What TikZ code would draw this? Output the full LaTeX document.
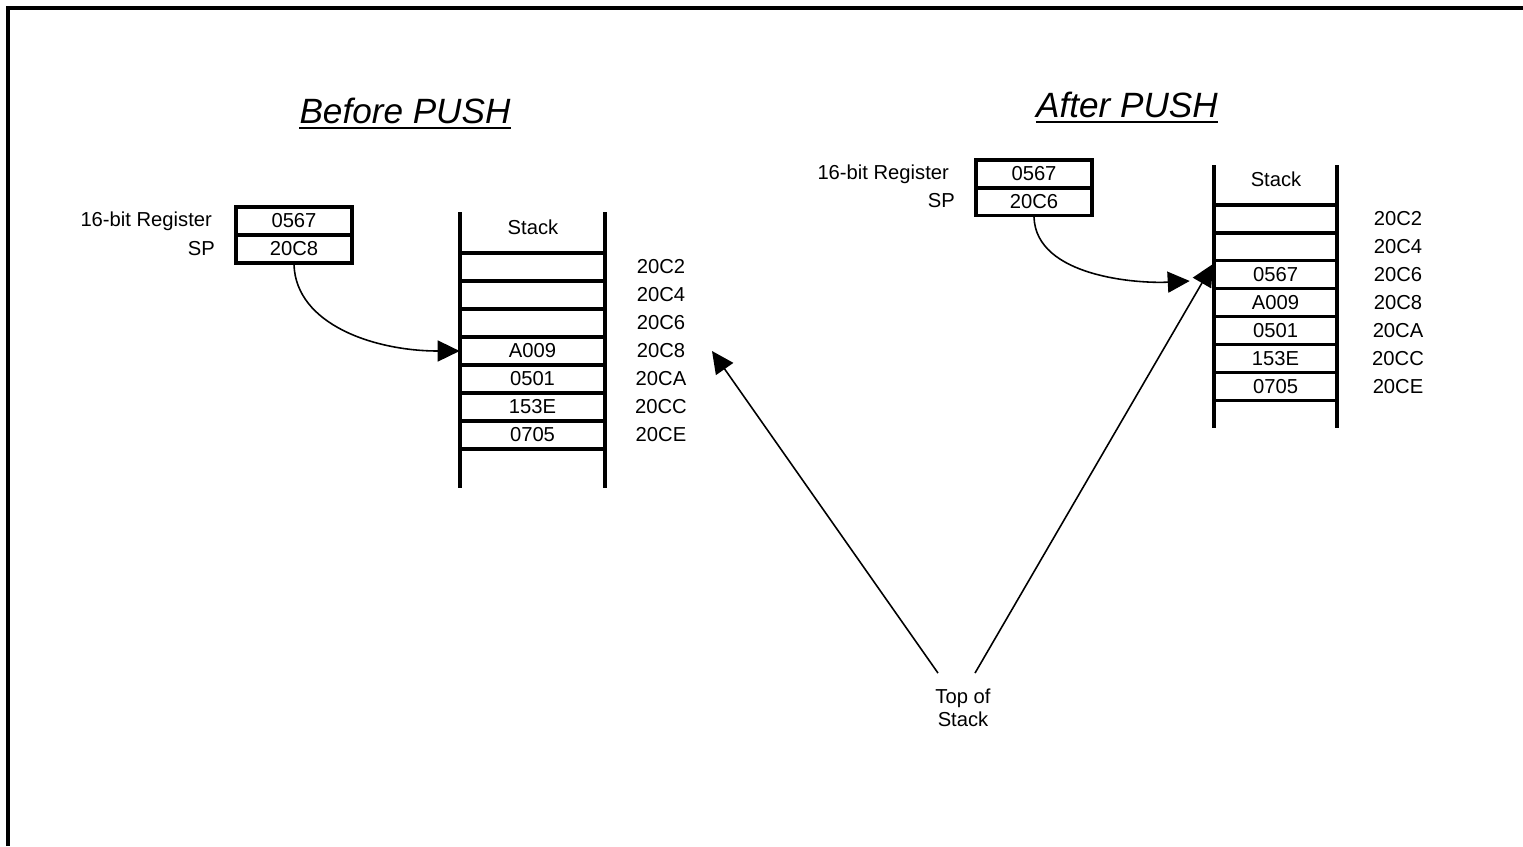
\documentclass[tikz,border=0pt]{standalone}
\usepackage{fontspec}
\setmainfont{Liberation Sans}
\usetikzlibrary{arrows.meta, positioning, calc}

\begin{document}
\begin{tikzpicture}[
    x=0.02cm, y=-0.02cm,
    >={Triangle[length=0.44cm, width=0.42cm]},
    lbl/.style={font=\fontsize{11.5}{13}\selectfont, inner sep=1pt},
    title/.style={font=\fontsize{20}{24}\selectfont\itshape, inner sep=0pt, anchor=base},
    reg/.style={lbl, draw, line width=1.9pt, minimum width=2.32cm,
                minimum height=0.56cm, inner sep=0pt},
    cell/.style={lbl, minimum width=2.9cm, minimum height=0.56cm, inner sep=0pt},
    rail/.style={line width=1.9pt},
    ptr/.style={->, line width=0.9pt},
]
  \useasboundingbox (0,0) rectangle (1523,846);
  % frame
  \draw[line width=2pt] (8,846) -- (8,8) -- (1523,8);

  % titles
  \node[title] (titleB) at (405,123) {Before PUSH};
  \node[title] (titleA) at (1127,117) {After PUSH};
  \foreach \t in {titleB, titleA}
    \draw[line width=1.1pt] ([yshift=-3pt]\t.base west) -- ([yshift=-3pt]\t.base east);

  % --- before push ---
  \node[lbl, anchor=east] (regnameB) at (214,221) {16-bit Register};
  \node[lbl, anchor=east] (spnameB) at (217,249) {SP};
  \node[reg] (regB1) at (294,221) {0567};
  \node[reg] (regB2) at (294,249) {20C8};

  \draw[rail] (460,212) -- (460,488);
  \draw[rail] (605,212) -- (605,488);
  \foreach \k in {0,...,7}
    \draw[rail] (460,{253+28*\k}) -- (605,{253+28*\k});
  \node[lbl] (stkB) at (533,227) {Stack};
  \foreach \val [count=\i] in {{},{},{},A009,0501,153E,0705}
    \node[cell] (sB\i) at (532.5,{239+28*\i}) {\val};
  \foreach \adr [count=\i] in {20C2,20C4,20C6,20C8,20CA,20CC,20CE}
    \node[lbl] (aB\i) at (661,{239+28*\i}) {\adr};

  \draw[ptr] (regB2.south) .. controls +(2,60) and +(-85,0) .. (sB4.west);

  % --- after push ---
  \node[lbl, anchor=east] (regnameA) at (951,174) {16-bit Register};
  \node[lbl, anchor=east] (spnameA) at (957,201) {SP};
  \node[reg] (regA1) at (1034,174) {0567};
  \node[reg] (regA2) at (1034,201.5) {20C6};

  \draw[rail] (1214,165) -- (1214,428);
  \draw[rail] (1337,165) -- (1337,428);
  \foreach \k in {0,...,7}
    \draw[rail] (1214,{205+27.9*\k}) -- (1337,{205+27.9*\k});
  \node[lbl] (stkA) at (1276,179) {Stack};
  \foreach \val [count=\i] in {{},{},0567,A009,0501,153E,0705}
    \node[cell, minimum width=2.46cm] (sA\i) at (1275.5,{191+27.9*\i}) {\val};
  \foreach \adr [count=\i] in {20C2,20C4,20C6,20C8,20CA,20CC,20CE}
    \node[lbl] (aA\i) at (1398,{191+27.9*\i}) {\adr};

  \draw[ptr, shorten >=0.48cm] (regA2.south) .. controls +(2,60) and +(-75,4)
    .. ([yshift=-0.1cm]sA3.west);

  % --- top of stack ---
  \node[lbl, align=center] (tos) at (963,708) {Top of\\Stack};
  \coordinate (topB) at (712,351);
  \coordinate (topA) at (1213,264);
  \draw[ptr] ($(tos.north)+(-25,-14)$) -- (topB);
  \draw[ptr] ($(tos.north)+(12,-14)$) -- (topA);
\end{tikzpicture}
\end{document}
